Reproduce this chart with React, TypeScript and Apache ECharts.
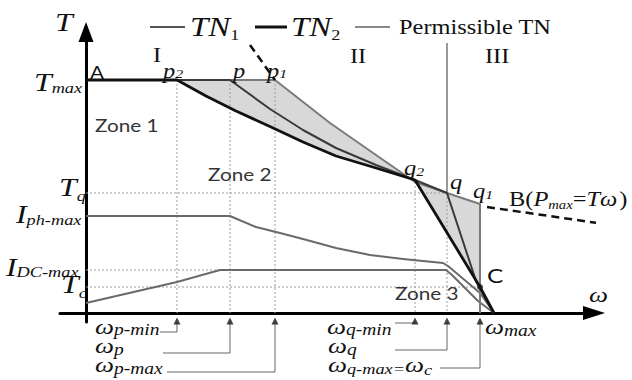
import React, { useEffect, useRef } from "react";
import * as echarts from "echarts";

// ---- values (ω to the right, T upwards, diagram units) ----
const levelNames = ["Tmax", "Tq", "Iph-max", "IDC-max", "Tc"];
const levelValues = [233, 120, 97, 43, 26];

const omegaNames = ["ωp-min", "ωp", "ωp-max", "ωq-min", "ωq", "ωq-max"];
const omegaValues = [91, 144, 189, 329, 361, 394];
const omegaMax = 408;

const tn2Points = [[0, 233], [91, 233], [120, 217], [150, 202], [185, 186], [217, 171], [250, 157], [290, 145], [329, 133], [394, 26], [408, 0]];
const tn1Points = [[0, 233], [144, 233], [184, 204], [217, 183], [250, 165], [290, 148], [329, 133], [361, 120], [390, 32], [408, 0]];
const permissiblePoints = [[0, 233], [189, 233], [244, 190], [290, 158], [329, 131], [361, 120], [394, 109], [394, 0]];
const hyperbolaUpper = [[164, 268], [189, 233]];
const hyperbolaLower = [[401, 106], [546, 85]];
const iphPoints = [[0, 97], [144, 97], [170, 86], [194, 80], [217, 74], [250, 65], [284, 58], [317, 54], [357, 50], [362, 47], [394, 20], [408, 0]];
const idcPoints = [[0, 10], [91, 31], [134, 43], [360, 43], [366, 38], [392, 12], [408, 0]];
const zoneBoundaryTop = 270;

const SERIF = "Liberation Serif";
const SANS = "Lato";
const SX = 1.22;

let measureCtx: CanvasRenderingContext2D | null = null;
function textWidth(text: string, size: number, italic: boolean, family: string) {
  if (!measureCtx) measureCtx = document.createElement("canvas").getContext("2d");
  if (!measureCtx) return text.length * size * 0.5;
  measureCtx.font = `${italic ? "italic " : ""}${size}px "${family}"`;
  return measureCtx.measureText(text).width;
}

function label(text: string, x: number, y: number, size: number, o: any = {}) {
  return {
    type: "text",
    x,
    y,
    scaleX: o.sx ?? SX,
    silent: true,
    z: 100,
    style: {
      text,
      fill: o.color || "#111",
      fontSize: size,
      fontFamily: o.sans ? SANS : SERIF,
      fontStyle: o.italic ? "italic" : "normal",
      align: "left",
      verticalAlign: "middle",
      textAlign: "left",
      textVerticalAlign: "middle",
    },
  };
}

// a run of pieces (base letters + subscripts) laid out one after another
function run(x: number, y: number, parts: any[]) {
  const out: any[] = [];
  let cx = x;
  for (const p of parts) {
    const [t, s, italic, dy = 0, gap = 0] = p;
    cx += gap;
    out.push(label(t, cx, y + dy, s, { italic }));
    cx += textWidth(t, s, italic, SERIF) * SX;
  }
  return out;
}

function line(data: number[][], color: string, width: number, z: number, type: any = "solid") {
  return {
    type: "line",
    data,
    showSymbol: false,
    symbol: "none",
    clip: false,
    silent: true,
    z,
    lineStyle: { color, width, type, cap: "butt", join: "round" },
  };
}

export default function App() {
  const ref = useRef<HTMLDivElement>(null);
  useEffect(() => {
    if (!ref.current) return;
    const chart = echarts.init(ref.current, undefined, { renderer: "svg" });

    const [tMax, tQ, , tDc, tC] = levelValues;
    const [wpMin, wp, wpMax, wqMin, wq, wqMax] = omegaValues;

    // shaded region between permissible TN (upper) and TN2 (lower)
    const upper = [[wpMin, tMax], ...permissiblePoints.filter((p) => p[0] > wpMin && p[1] > 0)];
    const cIdx = tn2Points.findIndex((p) => p[0] === wqMax);
    const lower = tn2Points.slice(0, cIdx + 1).filter((p) => p[0] >= wpMin).reverse();
    const shade = [...upper, ...lower];

    const q2T = permissiblePoints.find((p) => p[0] === wqMin)![1];
    const dot = "#9a9a9a";
    const dotType = [2, 2];

    const guides = [
      line([[wpMin, tMax], [wpMin, 0]], dot, 1, 2, dotType),
      line([[wp, tMax], [wp, 0]], dot, 1, 2, dotType),
      line([[wpMax, tMax], [wpMax, 0]], dot, 1, 2, dotType),
      line([[wqMin, q2T], [wqMin, 0]], dot, 1, 2, dotType),
      line([[wq, tQ], [wq, 0]], dot, 1, 2, dotType),
      line([[0, tQ], [wq, tQ]], dot, 1, 2, dotType),
      line([[0, tDc], [134, tDc]], dot, 1, 2, dotType),
      line([[0, tC], [wqMax, tC]], dot, 1, 2, dotType),
      line([[wq, zoneBoundaryTop], [wq, tQ]], "#9a9a9a", 2, 3),
    ];

    // leader lines from tick labels to arrows under the axis
    const leaders = [
      line([[74, -19], [wpMin, -19], [wpMin, -10]], "#666", 1, 4),
      line([[77, -40], [wp, -40], [wp, -10]], "#666", 1, 4),
      line([[81, -59], [wpMax, -59], [wpMax, -10]], "#666", 1, 4),
      line([[309, -10], [wqMin, -10]], "#666", 1, 4),
      line([[309, -37], [wq, -37], [wq, -10]], "#666", 1, 4),
      line([[354, -55], [wqMax, -55], [wqMax, -10]], "#666", 1, 4),
    ];

    const I = true;
    const R = false;
    const graphic: any[] = [
      // legend
      { type: "line", shape: { x1: 150, y1: 27, x2: 185, y2: 27 }, style: { stroke: "#555", lineWidth: 2 }, silent: true },
      { type: "line", shape: { x1: 255, y1: 27, x2: 287, y2: 27 }, style: { stroke: "#111", lineWidth: 3 }, silent: true },
      { type: "line", shape: { x1: 355, y1: 27, x2: 390, y2: 27 }, style: { stroke: "#888", lineWidth: 2 }, silent: true },
      ...run(190, 27, [["TN", 27, I], ["1", 15, R, 8]]),
      ...run(291, 27, [["TN", 27, I], ["2", 15, R, 8]]),
      label("Permissible TN", 399, 27, 20),
      // axis titles
      label("T", 55, 22, 26, { italic: I }),
      label("ω", 589, 294, 22, { italic: I }),
      // T-axis levels
      ...run(34, 82, [["T", 26, I], ["max", 15, I, 6]]),
      ...run(59, 187, [["T", 26, I], ["q", 15, I, 9]]),
      ...run(16, 214, [["I", 26, I], ["ph-max", 15, I, 6]]),
      ...run(6, 267, [["I", 26, I], ["DC-max", 15, I, 5]]),
      ...run(61, 284, [["T", 26, I], ["c", 15, I, 9]]),
      // points and zones
      label("A", 90, 72, 17, { sans: true }),
      label("I", 153, 55, 20),
      ...run(163, 71, [["p", 20, I], ["2", 13, I, 3]]),
      label("p", 233, 71, 20, { italic: I }),
      ...run(267, 71, [["p", 20, I], ["1", 13, I, 3]]),
      label("II", 350, 56, 20),
      label("III", 485, 56, 20),
      label("Zone 1", 95, 125, 17, { sans: true, color: "#333" }),
      label("Zone 2", 208, 174, 17, { sans: true, color: "#333" }),
      label("Zone 3", 395, 293, 17, { sans: true, color: "#333" }),
      ...run(404, 168, [["q", 20, I], ["2", 13, I, 4]]),
      label("q", 450, 182, 20, { italic: I }),
      ...run(473, 191, [["q", 20, I], ["1", 13, I, 4]]),
      ...run(509, 199, [["B(", 20, R], ["P", 20, I], ["max", 12, I, 6], ["=", 20, R], ["T", 20, I], ["ω", 20, I], [")", 20, R, 0, 2]]),
      label("C", 487, 275, 20, { sans: true }),
      // ω-axis labels
      ...run(95, 326, [["ω", 22, I], ["p-min", 16, I, 4]]),
      ...run(95, 345, [["ω", 22, I], ["p", 16, I, 5]]),
      ...run(95, 364, [["ω", 22, I], ["p-max", 16, I, 5]]),
      ...run(327, 326, [["ω", 22, I], ["q-min", 16, I, 4]]),
      ...run(328, 345, [["ω", 22, I], ["q", 16, I, 5]]),
      ...run(328, 364, [["ω", 22, I], ["q-max=", 15, I, 5], ["ω", 22, I], ["c", 15, I, 6]]),
      ...run(485, 326, [["ω", 22, I], ["max", 16, I, 5]]),
    ];

    chart.setOption({
      animation: false,
      backgroundColor: "#fff",
      grid: { left: 60, right: 38, top: 32, bottom: 58 },
      xAxis: {
        type: "value",
        min: -26,
        max: 508,
        axisLine: { onZero: true, lineStyle: { color: "#000", width: 3 }, symbol: ["none", "triangle"], symbolSize: [14, 22] },
        axisTick: { show: false },
        axisLabel: { show: false },
        splitLine: { show: false },
      },
      yAxis: {
        type: "value",
        min: -9,
        max: 281,
        axisLine: { onZero: true, lineStyle: { color: "#000", width: 3 }, symbol: ["none", "triangle"], symbolSize: [15, 20] },
        axisTick: { show: false },
        axisLabel: { show: false },
        splitLine: { show: false },
      },
      graphic,
      series: [
        {
          type: "custom",
          silent: true,
          z: 1,
          data: [[0, 0]],
          renderItem: (params: any, api: any) => {
            if (params.dataIndex !== 0) return null;
            return {
              type: "polygon",
              shape: { points: shade.map((p) => api.coord(p)) },
              style: { fill: "#d8d8d8", stroke: "none" },
            };
          },
        },
        ...guides,
        line(iphPoints, "#6a6a6a", 2, 5),
        line(idcPoints, "#6a6a6a", 2, 5),
        line(permissiblePoints, "#7a7a7a", 2, 6),
        line(tn1Points, "#3a3a3a", 2, 7),
        line(tn2Points, "#111", 2.8, 8),
        line(hyperbolaUpper, "#111", 2.5, 8, [8, 5]),
        line(hyperbolaLower, "#111", 2.5, 8, [8, 5]),
        ...leaders,
        {
          type: "scatter",
          silent: true,
          z: 9,
          symbol: "triangle",
          symbolSize: [7, 7],
          itemStyle: { color: "#111" },
          data: omegaValues.map((w) => [w, -8]),
        },
        {
          type: "scatter",
          silent: true,
          z: 9,
          symbol: "circle",
          symbolSize: 6,
          itemStyle: { color: "#111" },
          data: [[wqMax, tC]],
        },
      ],
    });
    return () => chart.dispose();
  }, []);
  return <div ref={ref} style={{ position: "absolute", left: 0, top: 0, width: 632, height: 380 }} />;
}
